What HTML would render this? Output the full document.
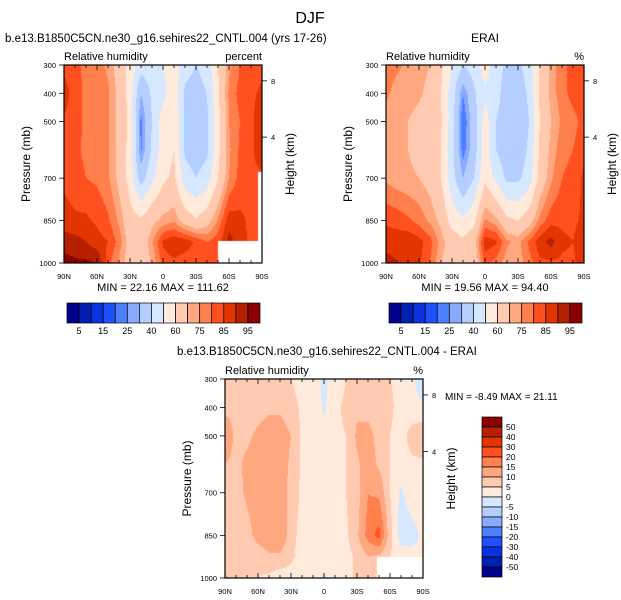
<!DOCTYPE html>
<html><head><meta charset="utf-8"><style>
body{margin:0;background:#fff;width:621px;height:600px;position:relative;overflow:hidden;font-family:"Liberation Sans",Arial,sans-serif}
canvas{position:absolute}
svg{position:absolute;left:0;top:0}
</style></head><body>
<canvas id="c1" width="198" height="198" style="left:64px;top:65px"></canvas>
<canvas id="c2" width="198" height="198" style="left:386px;top:65px"></canvas>
<canvas id="c3" width="198" height="199" style="left:225px;top:379px"></canvas>
<svg id="ov" width="621" height="600"></svg>
<script>
const lats=[90,80,70,60,50,40,30,20,10,0,-10,-20,-30,-40,-50,-60,-70,-80,-90];
const pLevels=[300,400,500,600,700,850,925,1000];
const modelRH=[
[83,81,79,77,74,66,56,45,47,50,55,44,40,44,60,74,80,82,84],
[88,82,79,78,76,68,56,30,42,47,57,38,36,40,58,76,82,84,86],
[84,82,79,78,76,68,57,23,40,55,60,37,34,38,57,75,80,84,88],
[83,81,79,78,76,68,56,24,42,55,60,38,34,38,57,74,81,84,88],
[84,82,80,79,76,68,56,35,48,58,62,45,40,45,60,75,82,84,84],
[87,86,86,84,81,74,64,62,68,72,74,66,61,66,76,88,86,84,84],
[93,92,90,87,85,78,66,64,74,86,89,88,84,80,83,92,87,84,84],
[97,96,96,95,82,74,66,63,71,82,84,82,82,82,82,85,85,84,84]];
const eraiRH=[
[78,76,74,72,70,62,50,40,45,55,45,38,38,45,62,72,78,82,84],
[76,73,72,71,68,60,45,25,38,48,45,33,33,42,62,72,78,82,84],
[73,71,70,68,66,61,45,20,35,55,40,33,30,40,60,70,76,78,82],
[73,71,70,68,66,60,43,22,35,55,40,33,33,42,62,72,78,80,84],
[74,72,71,70,67,60,44,30,40,58,48,38,38,45,64,74,80,82,86],
[84,83,81,78,74,68,56,52,58,76,72,62,60,66,77,83,84,84,86],
[88,88,89,87,82,73,65,62,66,88,86,76,73,81,88,92,86,85,88],
[92,90,88,86,80,70,65,62,63,82,78,72,72,78,84,84,84,84,88]];
const diffRH=[
[8,8,8,7,7,7,5,3,2,-1,2,5,9,7,6,5,4,1,-4],
[9,9,8,8,9,9,7,4,4,-1,4,6,9,8,7,6,3,2,1],
[13,9,9,11,13,13,10,4,4,2,4,5,11,12,8,5,3,7,9],
[10,9,11,13,14,13,9,4,4,2,4,5,9,13,9,5,3,4,4],
[8,8,11,13,14,13,8,4,3,2,4,5,8,15,14,5,-1,3,4],
[6,6,8,12,14,15,7,3,3,2,2,4,9,17,22,7,-3,-2,1],
[7,6,6,7,9,9,6,3,2,3,3,3,6,10,9,5,3,2,2],
[11,8,7,5,4,2,3,2,2,-1,3,5,5,5,6,5,4,3,2]];
const rhLevels=[5,10,15,20,25,30,40,50,60,70,75,80,85,90,95];
const diffLevels=[-50,-40,-30,-20,-15,-10,-5,0,5,10,15,20,30,40,50];
const rhLabels=["5","15","25","40","60","75","85","95"];
const diffLabels=["50","40","30","20","15","10","5","0","-5","-10","-15","-20","-30","-40","-50"];
const pTicks=[300,400,500,700,850,1000];
const latTicks=[90,60,30,0,-30,-60,-90];
const latTickLabels=["90N","60N","30N","0","30S","60S","90S"];
const heightTicks=[8,4];
const heightTickP=[356,555];
const model1Mask=[[-50,-90,922,1000],[-86,-90,680,1000]];
const model2Mask=[];
const diffMask=[[-48,-90,926,1000],[-85,-90,930,1000]];
const palette=["#00008f","#0020b0","#0a33e0","#1f50ff","#4d80ff","#88aaff","#b4ceff","#d6e8ff","#ffeadb","#ffcab0","#ffa880","#ff7f4d","#ff5020","#e33500","#b52000","#8b0000"];

function sample(data,lat,p){
  let fi=(90-lat)/10; let i0=Math.min(Math.floor(fi),lats.length-2); let tx=fi-i0;
  let j0=0; while(j0<pLevels.length-2 && p>pLevels[j0+1]) j0++;
  let ty=(p-pLevels[j0])/(pLevels[j0+1]-pLevels[j0]);
  const a=data[j0][i0],b=data[j0][i0+1],c=data[j0+1][i0],d=data[j0+1][i0+1];
  return (a*(1-tx)+b*tx)*(1-ty)+(c*(1-tx)+d*tx)*ty;
}
function drawField(id,data,levels,mask){
  const cv=document.getElementById(id),ctx=cv.getContext('2d');
  const W=cv.width,H=cv.height,img=ctx.createImageData(W,H);
  for(let y=0;y<H;y++)for(let x=0;x<W;x++){
    const lat=90-(x+0.5)/W*180,p=300+(y+0.5)/H*700;
    let masked=false;
    for(const m of mask) if(lat<=m[0]&&lat>=m[1]&&p>=m[2]&&p<=m[3]) masked=true;
    let col="#ffffff";
    if(!masked){const v=sample(data,lat,p);let k=0;while(k<levels.length&&v>=levels[k])k++;col=palette[k];}
    const o=(y*W+x)*4;
    img.data[o]=parseInt(col.substr(1,2),16);img.data[o+1]=parseInt(col.substr(3,2),16);img.data[o+2]=parseInt(col.substr(5,2),16);img.data[o+3]=255;
  }
  ctx.putImageData(img,0,0);
}
drawField('c1',modelRH,rhLevels,model1Mask);
drawField('c2',eraiRH,rhLevels,model2Mask);
drawField('c3',diffRH,diffLevels,diffMask);

const NS="http://www.w3.org/2000/svg",ov=document.getElementById('ov');
function el(tag,attrs,txt){const e=document.createElementNS(NS,tag);for(const k in attrs)e.setAttribute(k,attrs[k]);if(txt!==undefined)e.textContent=txt;ov.appendChild(e);return e;}
function text(x,y,s,size,anchor,name,extra){const t=el('text',Object.assign({x:x,y:y,'font-size':size,'text-anchor':anchor||'start',fill:'#000','font-family':'Liberation Sans, Arial, sans-serif'},extra||{}),s);

return t;}

function axes(X,Y,W,H,unit,pname){
  const xs=lat=>X+(90-lat)/180*W, ys=p=>Y+(p-300)/700*H;
  const f=el('rect',{x:X,y:Y,width:W,height:H,fill:'none',stroke:'#000','stroke-width':1.2});
  
  
  for(let lat=90;lat>=-90;lat-=10){const major=lat%30===0;const L=major?5:3;
    el('line',{x1:xs(lat),x2:xs(lat),y1:Y+H,y2:Y+H-L,stroke:'#000','stroke-width':0.8});
    el('line',{x1:xs(lat),x2:xs(lat),y1:Y,y2:Y+L,stroke:'#000','stroke-width':0.8});}
  latTicks.forEach((lat,i)=>text(xs(lat),Y+H+16,latTickLabels[i],7.5,'middle',pname+'-x-tick-label'));
  pTicks.forEach(p=>{el('line',{x1:X-5,x2:X,y1:ys(p),y2:ys(p),stroke:'#000','stroke-width':0.8});
    text(X-8,ys(p)+3,String(p),7.5,'end',pname+'-y-tick-label');});
  heightTicks.forEach((h,i)=>{const yy=ys(heightTickP[i]);el('line',{x1:X+W,x2:X+W+5,y1:yy,y2:yy,stroke:'#000','stroke-width':0.8});
    text(X+W+9,yy+3,String(h),7.5,'start',pname+'-height-tick-label');});
  text(X,Y-5,'Relative humidity',11,'start',pname+'-variable-label');
  text(X+W,Y-5,unit,11,'end',pname+'-unit-label');
  text(0,0,'Pressure (mb)',12,'middle',pname+'-y-axis-title',{transform:`translate(${X-34},${Y+H/2}) rotate(-90)`});
  text(0,0,'Height (km)',12,'middle',pname+'-right-axis-title',{transform:`translate(${X+W+32},${Y+H/2}) rotate(-90)`});
}
text(310,23,'DJF',16,'middle','figure-title');
text(5,42,'b.e13.B1850C5CN.ne30_g16.sehires22_CNTL.004 (yrs 17-26)',11.5,'start','model-panel-title');
text(485,42,'ERAI',12,'middle','erai-panel-title');
text(177,355,'b.e13.B1850C5CN.ne30_g16.sehires22_CNTL.004 - ERAI',11.5,'start','difference-panel-title');
axes(64,65,198,198,'percent','model');
axes(386,65,198,198,'%','erai');
axes(225,379,198,199,'%','difference');
text(163,291,'MIN =  22.16  MAX = 111.62',11,'middle','model-min-max',{'xml:space':'preserve'});
text(485,291,'MIN =  19.56  MAX =  94.40',11,'middle','erai-min-max',{'xml:space':'preserve'});
text(445,400,'MIN =  -8.49  MAX = 21.11',10,'start','difference-min-max',{'xml:space':'preserve'});

function hbar(X,name){const w=193/16;
  for(let i=0;i<16;i++){const r=el('rect',{x:X+i*w,y:303,width:w,height:20,fill:palette[i],stroke:'#000','stroke-width':0.7});
    
    }
  rhLabels.forEach((s,i)=>text(X+(2*i+1)*w,334,s,9,'middle',name+'-colorbar-label'));}
hbar(67,'model');hbar(389,'erai');
for(let i=0;i<16;i++){const r=el('rect',{x:482,y:417+i*10,width:20,height:10,fill:palette[15-i],stroke:'#000','stroke-width':0.7});
  
  }
diffLabels.forEach((s,i)=>text(506,427+i*10+3,s,8.5,'start','difference-colorbar-label'));
</script>
</body></html>
